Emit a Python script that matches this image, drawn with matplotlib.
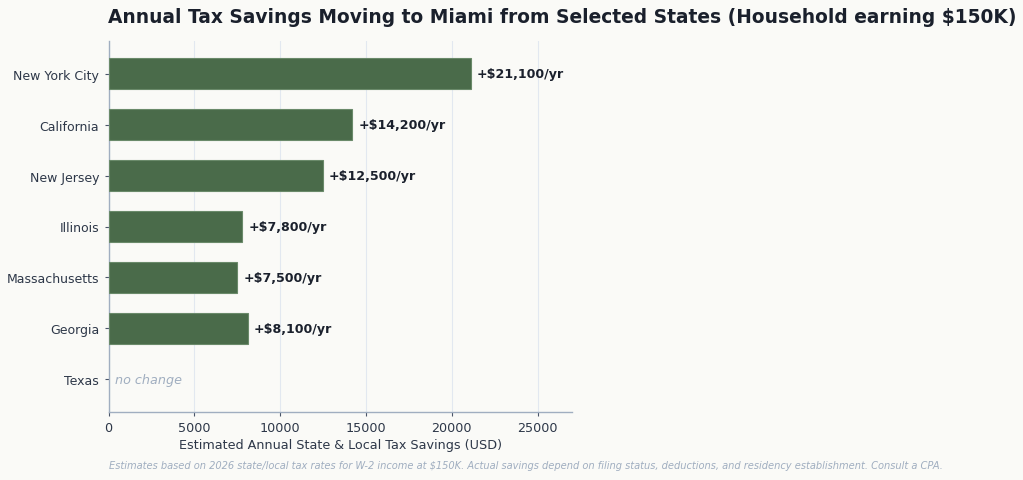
import matplotlib
matplotlib.use("Agg")
import matplotlib.pyplot as plt

states = ["New York City", "California", "New Jersey", "Illinois", "Massachusetts", "Georgia", "Texas"]
savings = [21100, 14200, 12500, 7800, 7500, 8100, 0]
labels = ["+$21,100/yr", "+$14,200/yr", "+$12,500/yr", "+$7,800/yr", "+$7,500/yr", "+$8,100/yr", "no change"]
xticks = [0, 5000, 10000, 15000, 20000, 25000]

bg = "#fafaf7"
bar_color = "#4a6b4a"
dark = "#1a202c"
muted = "#a0aec0"

fig = plt.figure(figsize=(10.23, 4.81), dpi=100, facecolor=bg)
ax = fig.add_axes([108.5/1023, 1-413/481, (572-108.5)/1023, (413-42)/481])
ax.set_facecolor(bg)

ypos = list(range(len(states)))[::-1]
edges = ["#6a8a6a" if v > 0 else "none" for v in savings]
ax.barh(ypos, savings, height=0.62, color=bar_color, edgecolor=edges, linewidth=0.8, zorder=3)

for y, v, lab in zip(ypos, savings, labels):
    if v > 0:
        ax.text(v + 350, y, lab, va="center", ha="left", fontsize=9.1, fontweight="bold", color=dark, zorder=4)
    else:
        ax.text(400, y, lab, va="center", ha="left", fontsize=9.2, fontstyle="italic", color=muted, zorder=4)

ax.set_yticks(ypos)
ax.set_yticklabels(states, fontsize=9.0, color="#2d3748")
ax.set_xticks(xticks)
ax.set_xticklabels([str(t) for t in xticks], fontsize=9.2, color="#2d3748")
ax.set_xlim(0, 27000)
ax.set_xlabel("Estimated Annual State & Local Tax Savings (USD)", fontsize=9.2, color="#2d3748", labelpad=3)

ax.grid(axis="x", color="#e2e8f0", linewidth=0.8, zorder=0)
ax.set_axisbelow(True)
for s in ["top", "right"]:
    ax.spines[s].set_visible(False)
for s in ["left", "bottom"]:
    ax.spines[s].set_color(muted)
    ax.spines[s].set_linewidth(1.0)
ax.tick_params(colors="#4a5568", labelcolor="#2d3748", length=3.2)

ax.set_title("Annual Tax Savings Moving to Miami from Selected States (Household earning $150K)",
             loc="left", fontsize=13.4, fontweight="bold", color=dark, pad=14)

fig.text(109/1023, 1-466/481,
         "Estimates based on 2026 state/local tax rates for W-2 income at $150K. Actual savings depend on filing status, deductions, and residency establishment. Consult a CPA.",
         fontsize=7.15, fontstyle="italic", color=muted, va="center", ha="left")

fig.savefig("out.png", dpi=100, facecolor=bg)
